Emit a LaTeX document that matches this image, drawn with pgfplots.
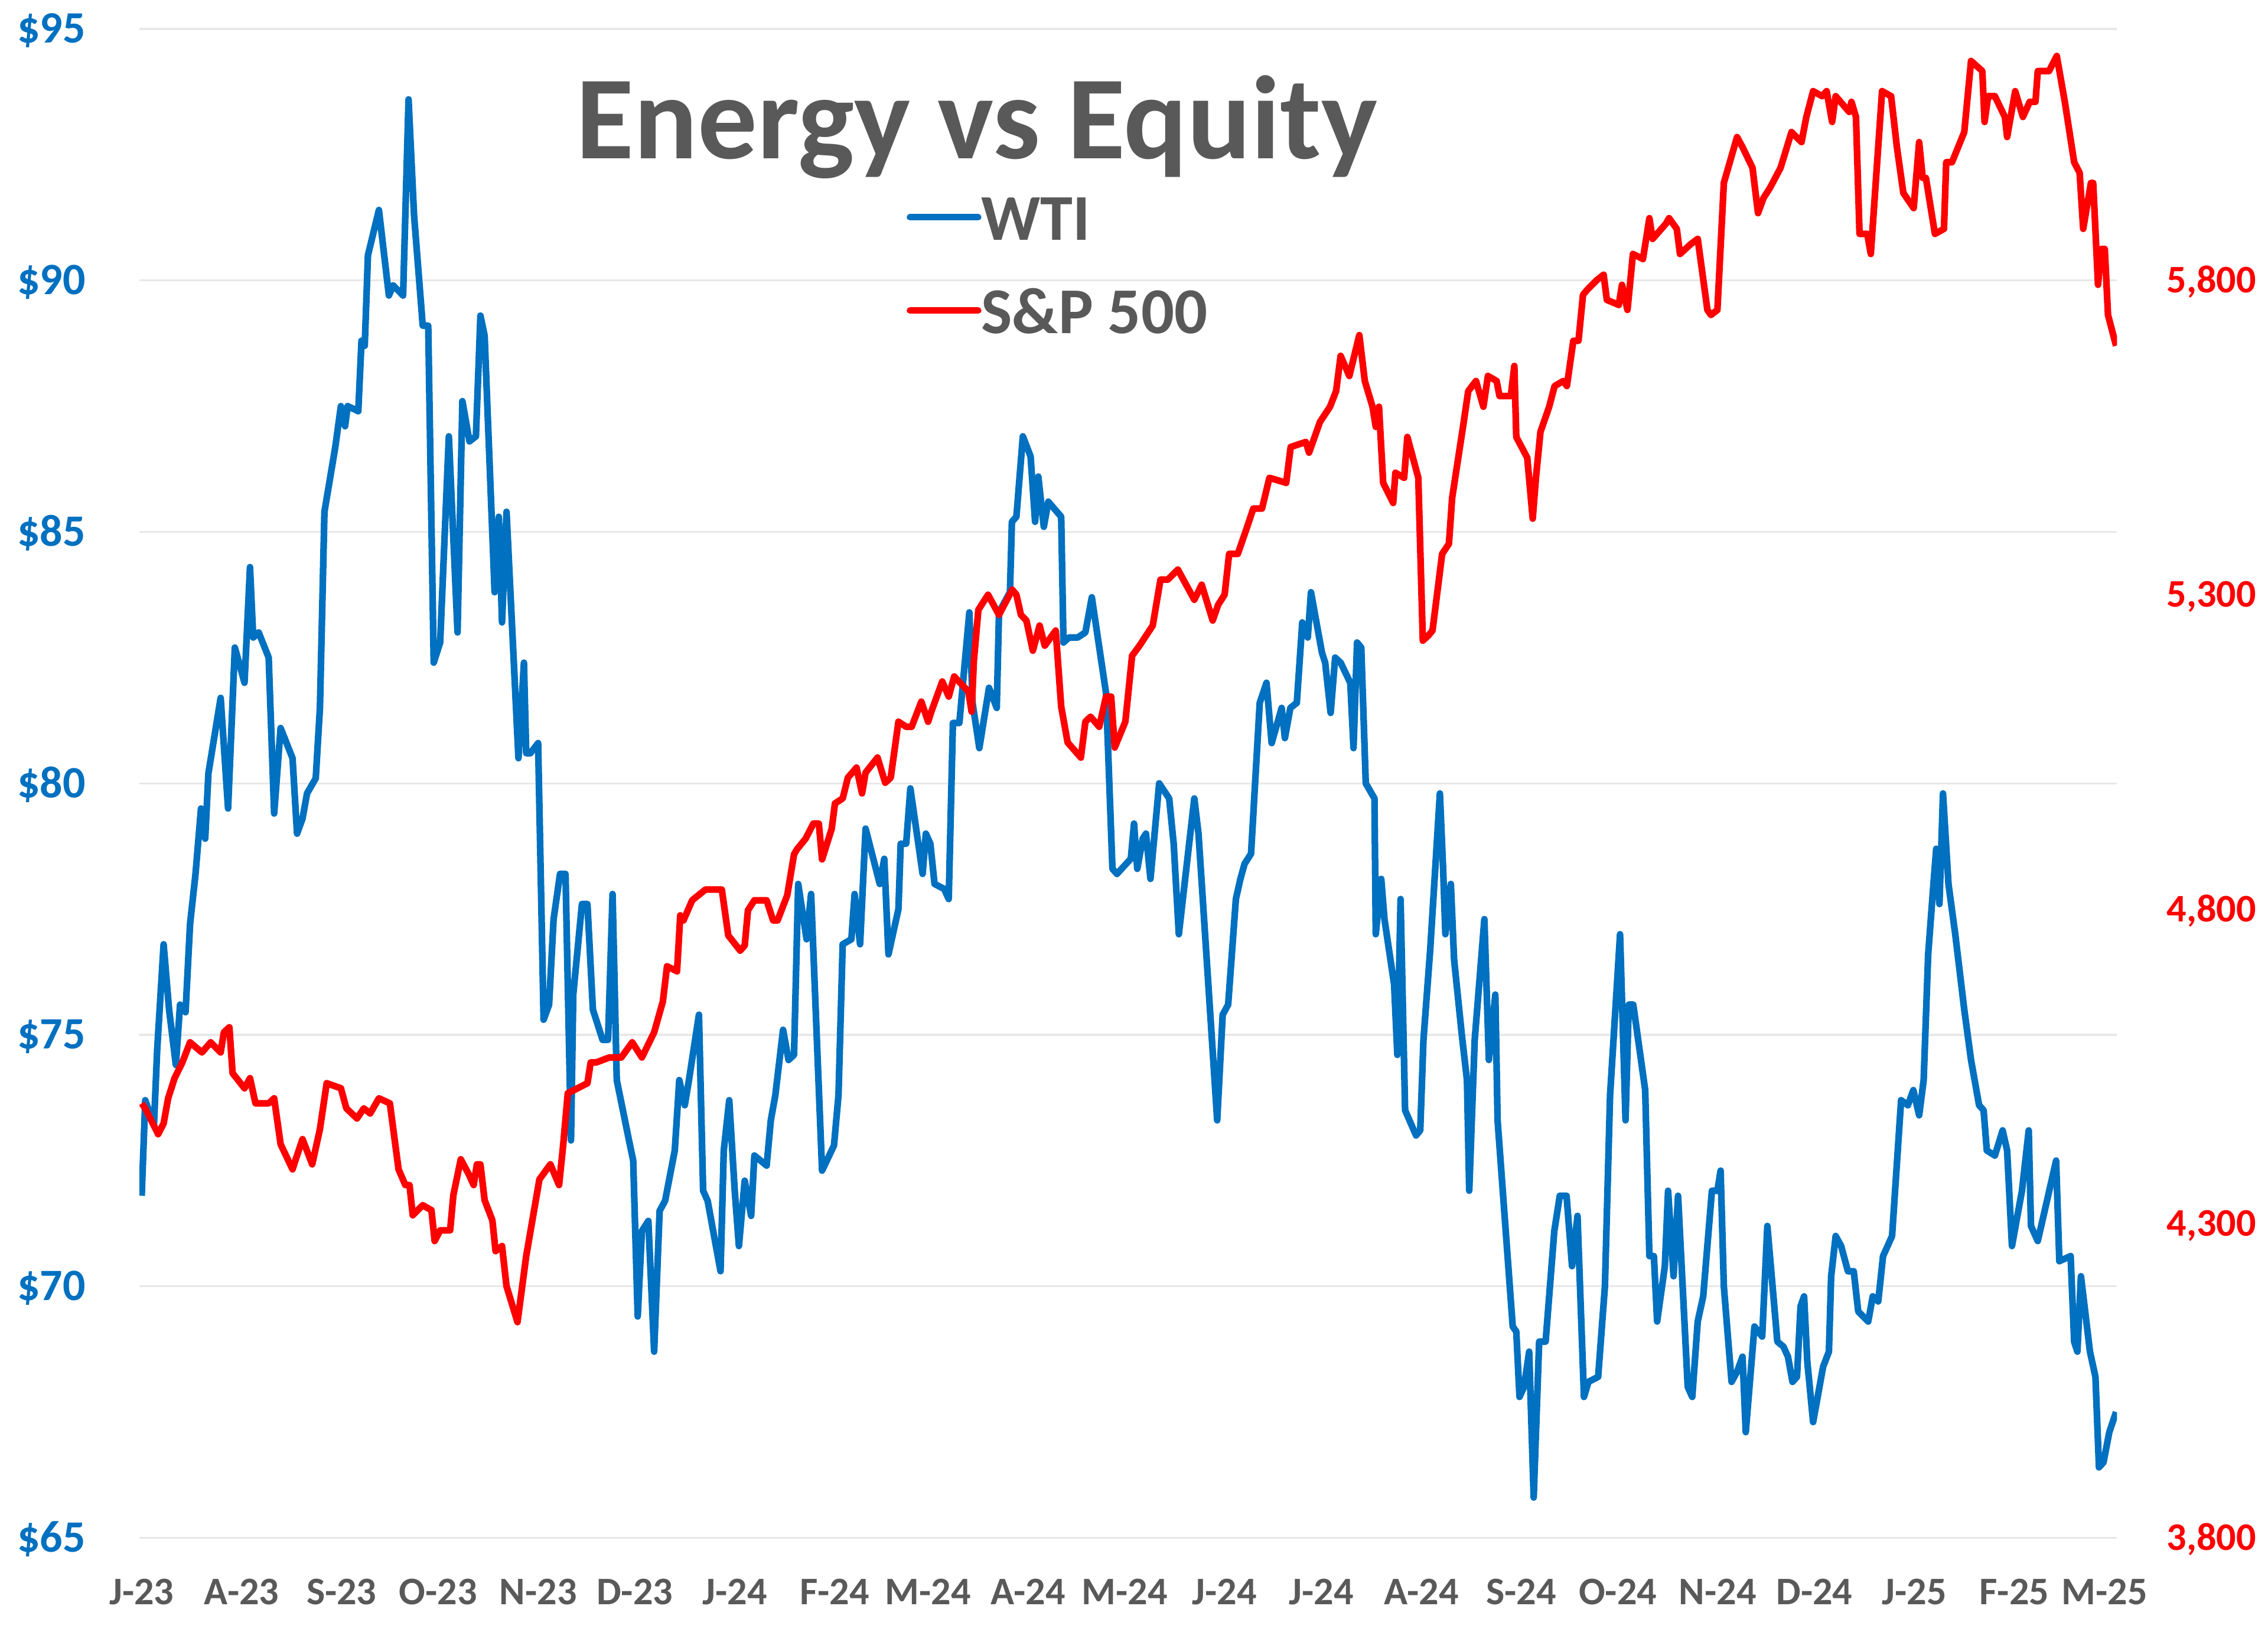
\documentclass[border=0pt]{standalone}
\usepackage{pgfplots}
\pgfplotsset{compat=1.18}
\usepackage{fontspec}
\setmainfont{Carlito}
\definecolor{wti}{RGB}{0,112,192}
\definecolor{spx}{RGB}{255,0,0}
\definecolor{tgray}{RGB}{89,89,89}
\definecolor{gridgray}{RGB}{232,232,232}
\begin{document}
\begin{tikzpicture}
\useasboundingbox (-48.2pt,-37pt) rectangle (735.75pt,531.5pt);
\begin{axis}[
  at={(0pt,0pt)}, anchor=south west, scale only axis,
  width=683.55pt, height=521.5pt,
  xmin=-0.7, xmax=612.9, ymin=65, ymax=95,
  axis line style={draw=none}, major tick length=0pt,
  ymajorgrids, grid style={draw=gridgray, line width=0.7pt},
  ytick={65,70,75,80,85,90,95},
  yticklabels={\$65,\$70,\$75,\$80,\$85,\$90,\$95},
  xtick={0,31,62,92,123,153,184,215,244,275,305,336,366,397,428,458,489,519,550,581,609},
  xticklabels={J-23,A-23,S-23,O-23,N-23,D-23,J-24,F-24,M-24,A-24,M-24,J-24,J-24,A-24,S-24,O-24,N-24,D-24,J-25,F-25,M-25},
  xticklabel style={font=\fontsize{13.5}{16}\selectfont\bfseries, anchor=north, inner sep=0pt, yshift=-14pt, text=tgray},
  yticklabel style={font=\fontsize{15.5}{18}\selectfont\bfseries, anchor=base east, inner sep=0pt, xshift=-18.5pt, yshift=-4.9pt, text=wti},
]
\addplot[color=wti, line width=2.3pt, line join=round] coordinates {
(0,71.8)(1.1,73.7)(3.8,73.2)(4.8,74.7)(6.8,76.8)(8.5,75.5)(10.6,74.4)(11.9,75.6)(13.6,75.45)(15.0,77.2)
(16.7,78.2)(18.4,79.5)(19.7,78.9)(20.7,80.2)(24.5,81.7)(26.8,79.5)(28.9,82.7)(30.2,82.4)(31.9,82.0)(33.6,84.3)
(34.6,82.9)(36.3,83.0)(39.4,82.5)(41.1,79.4)(43.1,81.1)(46.8,80.5)(48.2,79.0)(49.9,79.3)(51.3,79.8)(54.0,80.1)
(55.3,81.5)(56.7,85.4)(60.1,86.7)(61.8,87.5)(63.1,87.1)(63.9,87.5)(67.2,87.4)(68.2,88.8)(69.2,88.7)(70.2,90.5)
(73.6,91.4)(76.7,89.7)(78.0,89.9)(81.1,89.7)(82.8,93.6)(84.5,91.3)(87.2,89.1)(88.9,89.1)(90.6,82.4)(92.6,82.8)
(95.3,86.9)(98.0,83.0)(99.5,87.6)(101.7,86.8)(103.7,86.9)(105.1,89.3)(106.4,88.9)(109.5,83.8)(110.8,85.3)(111.8,83.2)
(113.2,85.4)(116.9,80.5)(118.6,82.4)(119.3,80.6)(120.6,80.6)(123.0,80.8)(124.7,75.3)(126.4,75.6)(127.8,77.3)(129.8,78.2)
(131.5,78.2)(133.2,72.9)(133.9,75.8)(136.6,77.6)(138.3,77.6)(140.0,75.5)(143.0,74.9)(144.7,74.9)(146.1,77.8)(147.4,74.1)
(151.2,72.9)(152.5,72.5)(153.9,69.4)(155.2,71.1)(157.2,71.3)(159.0,68.7)(160.7,71.5)(162.4,71.7)(165.4,72.7)(166.8,74.1)
(168.5,73.6)(169.8,74.1)(172.9,75.4)(174.2,71.9)(175.6,71.7)(179.6,70.3)(180.6,72.7)(182.3,73.7)(184.0,71.9)(185.3,70.8)
(187.1,72.1)(189.1,71.4)(190.1,72.6)(193.9,72.4)(195.2,73.3)(196.6,73.8)(199.0,75.1)(200.7,74.5)(202.4,74.6)(203.7,78.0)
(206.3,76.9)(207.7,77.8)(211.1,72.3)(214.8,72.8)(216.2,73.8)(217.5,76.8)(220.2,76.9)(221.2,77.8)(222.9,76.8)(224.6,79.1)
(229.0,78.0)(230.4,78.5)(231.7,76.6)(234.8,77.5)(235.5,78.8)(237.2,78.8)(238.5,79.9)(242.3,78.2)(243.3,79.0)(244.7,78.8)
(246.0,78.0)(249.0,77.9)(250.4,77.7)(251.7,81.2)(253.7,81.2)(256.8,83.4)(257.8,81.6)(259.9,80.7)(262.9,81.9)(265.3,81.5)
(266.0,83.4)(269.4,83.8)(270.0,85.2)(271.4,85.3)(273.4,86.9)(275.8,86.5)(277.2,85.2)(278.2,86.1)(279.9,85.1)(281.3,85.6)
(285.3,85.3)(286.0,82.8)(287.7,82.9)(290.4,82.9)(292.8,83.0)(294.8,83.7)(299.2,81.8)(301.2,78.3)(302.6,78.2)(306.9,78.5)
(307.9,79.2)(308.9,78.3)(310.6,78.9)(311.6,79.0)(313.0,78.1)(315.7,80.0)(318.8,79.7)(320.2,78.8)(321.8,77.0)(326.6,79.7)
(327.9,79.0)(333.7,73.3)(335.4,75.4)(337.1,75.6)(339.5,77.7)(340.9,78.1)(342.2,78.4)(344.2,78.6)(346.9,81.6)(349.0,82.0)
(350.6,80.8)(353.7,81.5)(354.7,80.9)(356.4,81.5)(358.4,81.6)(360.1,83.2)(361.8,82.9)(362.8,83.8)(366.2,82.6)(367.2,82.4)
(368.9,81.4)(370.3,82.5)(372.0,82.4)(375.0,82.0)(376.0,80.7)(377.1,82.8)(378.4,82.7)(379.8,80.0)(382.5,79.7)(382.9,77.0)
(384.6,78.1)(385.6,77.3)(388.6,76.0)(389.6,74.6)(390.6,77.7)(392.0,73.5)(395.4,73.0)(396.7,73.1)(397.7,74.9)(399.8,76.7)
(402.8,79.8)(403.8,78.3)(404.5,77.0)(406.2,78.0)(407.2,76.5)(409.6,75.0)(411.2,74.1)(411.9,71.9)(413.6,74.9)(416.6,77.3)
(418.0,74.5)(420.0,75.8)(420.7,73.3)(425.4,69.2)(426.5,69.1)(427.5,67.8)(428.9,68.0)(430.5,68.7)(431.9,65.8)(433.6,68.9)
(435.6,68.9)(438.3,71.1)(440.0,71.8)(442.1,71.8)(443.8,70.4)(445.5,71.4)(447.5,67.8)(448.9,68.1)(451.9,68.2)(454.0,70.0)
(455.6,73.8)(458.7,77.0)(460.4,73.3)(461.4,75.6)(462.8,75.6)(466.5,73.9)(467.8,70.6)(469.2,70.6)(470.2,69.3)(472.6,70.4)
(473.6,71.9)(475.3,70.2)(476.7,71.8)(479.7,68.0)(481.1,67.8)(482.8,69.3)(484.5,69.8)(487.2,71.9)(488.9,71.9)(489.9,72.3)
(490.9,70.0)(493.3,68.1)(495.0,68.3)(496.7,68.6)(497.7,67.1)(500.4,69.2)(502.8,69.0)(504.4,71.2)(507.5,68.9)(509.4,68.8)
(510.8,68.6)(512.2,68.1)(513.6,68.2)(514.7,69.6)(515.8,69.8)(516.8,68.5)(518.6,67.3)(521.7,68.4)(523.5,68.7)(524.2,70.2)
(525.6,71.0)(527.3,70.8)(529.4,70.3)(531.2,70.3)(532.6,69.5)(535.7,69.3)(537.1,69.8)(538.8,69.7)(540.3,70.6)(543.1,71.0)
(545.9,73.7)(548.0,73.6)(549.7,73.9)(551.5,73.4)(552.9,74.1)(554.3,76.6)(555.7,77.8)(556.8,78.7)(557.8,77.6)(558.9,79.8)
(560.6,78.0)(562.7,77.0)(565.5,75.5)(567.6,74.5)(570.1,73.6)(571.5,73.5)(572.5,72.7)(575.0,72.6)(577.4,73.1)(578.8,72.7)
(580.3,70.8)(581.7,71.3)(583.4,71.9)(585.5,73.1)(586.2,71.2)(588.3,70.9)(590.8,71.6)(594.0,72.5)(595.0,70.5)(598.5,70.6)
(599.6,68.9)(600.6,68.7)(601.7,70.2)(604.5,68.7)(606.2,68.2)(607.3,66.4)(608.7,66.5)(610.5,67.1)(612.6,67.5)
};
\end{axis}
\begin{axis}[
  at={(0pt,0pt)}, anchor=south west, scale only axis,
  width=683.55pt, height=521.5pt,
  xmin=-0.7, xmax=612.9, ymin=3800, ymax=6200,
  axis line style={draw=none}, major tick length=0pt,
  xtick=\empty,
  yticklabel pos=right,
  ytick={3800,4300,4800,5300,5800},
  yticklabels={{3,800},{4,300},{4,800},{5,300},{5,800}},
  yticklabel style={font=\fontsize{13.5}{16}\selectfont\bfseries, anchor=base west, inner sep=0pt, xshift=17pt, yshift=-4.3pt, text=spx},
  legend style={at={(0.388,0.888)}, anchor=north west, draw=none, fill=none,
    inner sep=0pt, outer sep=0pt, row sep=17.75pt, column sep=0pt,
    font=\fontsize{22.6}{26}\selectfont\bfseries, text=tgray,
    nodes={inner sep=0pt, text height=14.5pt, text depth=0pt}},
  legend cell align=left,
  legend image code/.code={\draw[#1, line cap=round] (0pt,0.6pt) -- (23.5pt,0.6pt);},
]
\addlegendimage{color=wti, line width=2.3pt}
\addlegendentry{WTI}
\addplot[color=spx, line width=2.3pt, line join=round] coordinates {
(0,4491)(1.1,4483)(5.1,4442)(6.8,4459)(8.2,4499)(10.2,4531)(12.6,4556)(15.0,4588)(18.7,4572)(21.4,4588)
(24.5,4572)(25.5,4604)(27.2,4612)(28.2,4539)(31.9,4515)(33.6,4531)(35.3,4491)(39.4,4491)(41.1,4499)(43.1,4426)
(46.8,4386)(47.8,4402)(49.9,4434)(52.9,4394)(55.3,4450)(57.4,4523)(61.8,4515)(63.5,4483)(66.8,4467)(68.9,4483)
(70.9,4475)(73.6,4499)(77.0,4491)(79.7,4386)(81.8,4361)(83.1,4361)(84.1,4313)(87.2,4329)(89.9,4321)(90.9,4272)
(92.6,4289)(95.7,4289)(96.7,4345)(99.0,4402)(101.5,4378)(103.0,4361)(104.0,4394)(105.1,4394)(106.4,4337)(108.8,4305)
(109.8,4256)(111.8,4264)(113.2,4200)(116.6,4143)(119.3,4248)(123.4,4370)(126.8,4394)(129.5,4361)(130.8,4426)(132.2,4507)
(138.3,4523)(139.3,4556)(141.0,4556)(145.1,4564)(148.8,4564)(152.2,4588)(155.2,4564)(159.0,4604)(161.7,4653)(163.0,4709)
(166.1,4701)(167.1,4790)(168.1,4782)(170.8,4814)(174.9,4831)(180.0,4831)(182.0,4758)(185.7,4734)(187.1,4742)(188.1,4798)
(190.1,4814)(193.9,4814)(195.9,4782)(197.3,4782)(200.3,4822)(202.4,4887)(203.3,4895)(206.0,4912)(208.4,4936)(210.1,4936)
(211.1,4879)(214.1,4928)(215.1,4968)(217.5,4976)(219.1,5009)(221.8,5025)(223.5,4984)(224.6,5017)(228.3,5041)(230.7,5001)
(232.4,5009)(234.8,5098)(237.2,5090)(238.9,5090)(241.9,5130)(244.0,5098)(245.0,5114)(248.4,5162)(250.4,5138)(252.1,5170)
(256.5,5146)(257.5,5114)(258.2,5195)(259.6,5276)(262.6,5300)(266.0,5268)(270.1,5308)(271.4,5300)(272.8,5268)(274.5,5259)
(276.5,5211)(278.6,5251)(280.2,5219)(283.6,5243)(285.3,5122)(287.3,5065)(291.4,5041)(292.8,5098)(294.4,5106)(297.1,5090)
(299.2,5138)(300.8,5138)(301.9,5057)(305.2,5098)(307.3,5203)(309.6,5219)(313.7,5251)(316.1,5324)(318.4,5324)(321.5,5340)
(326.6,5292)(328.9,5316)(332.3,5259)(334.0,5284)(336.0,5300)(337.4,5365)(340.1,5365)(342.8,5405)(344.9,5437)(347.6,5437)
(349.9,5486)(355.1,5478)(356.5,5535)(361.2,5543)(362.2,5526)(365.6,5575)(368.7,5599)(370.6,5624)(372.0,5680)(374.7,5648)
(377.8,5713)(379.5,5640)(381.9,5599)(382.9,5567)(383.9,5599)(385.2,5478)(388.3,5446)(389.0,5494)(391.7,5486)(392.7,5551)
(396.1,5486)(397.5,5227)(399.2,5235)(400.5,5243)(403.5,5365)(405.6,5381)(406.6,5454)(410.2,5575)(411.6,5624)(414.0,5640)
(416.3,5599)(417.7,5648)(420.4,5640)(421.3,5616)(424.8,5616)(425.9,5664)(426.5,5551)(429.9,5518)(431.6,5421)(432.6,5486)
(434.0,5559)(436.7,5599)(438.4,5632)(441.1,5640)(442.2,5632)(444.2,5704)(445.8,5704)(447.2,5777)(448.5,5785)(451.6,5801)
(453.6,5809)(454.6,5769)(458.3,5761)(459.3,5793)(461.0,5753)(462.7,5842)(465.8,5834)(467.8,5899)(468.8,5866)(472.9,5890)
(473.9,5899)(476.3,5882)(477.3,5842)(480.7,5858)(482.8,5866)(485.8,5753)(486.9,5745)(488.9,5753)(490.9,5955)(495.0,6028)
(496.7,6012)(499.8,5979)(501.5,5907)(503.2,5931)(505.2,5947)(508.5,5979)(511.9,6036)(515.0,6020)(516.5,6060)(518.6,6101)
(521.4,6093)(522.8,6101)(524.5,6052)(525.6,6093)(529.8,6068)(530.5,6084)(531.9,6060)(533.0,5874)(535.4,5874)(536.5,5842)
(540.0,6101)(542.8,6093)(544.6,6012)(546.6,5939)(549.8,5915)(551.5,6020)(552.6,5963)(553.6,5963)(556.4,5874)(559.2,5882)
(559.9,5988)(561.7,5988)(565.5,6036)(567.6,6149)(571.1,6133)(571.8,6052)(572.9,6093)(575.0,6093)(578.1,6060)(578.8,6028)
(581.3,6101)(583.7,6060)(585.8,6084)(587.6,6084)(588.3,6133)(591.8,6133)(594.2,6157)(596.7,6084)(599.6,5988)(601.3,5971)
(602.4,5882)(604.8,5955)(605.5,5955)(607.0,5793)(608.0,5850)(609.1,5850)(610.1,5745)(612.6,5696)
};
\addlegendentry{S\&P 500}
\end{axis}
\node[anchor=base west, inner sep=0pt, font=\fontsize{41}{49}\selectfont\bfseries, text=tgray] at (150.8pt,476.75pt) {Energy vs Equity};
\end{tikzpicture}
\end{document}
